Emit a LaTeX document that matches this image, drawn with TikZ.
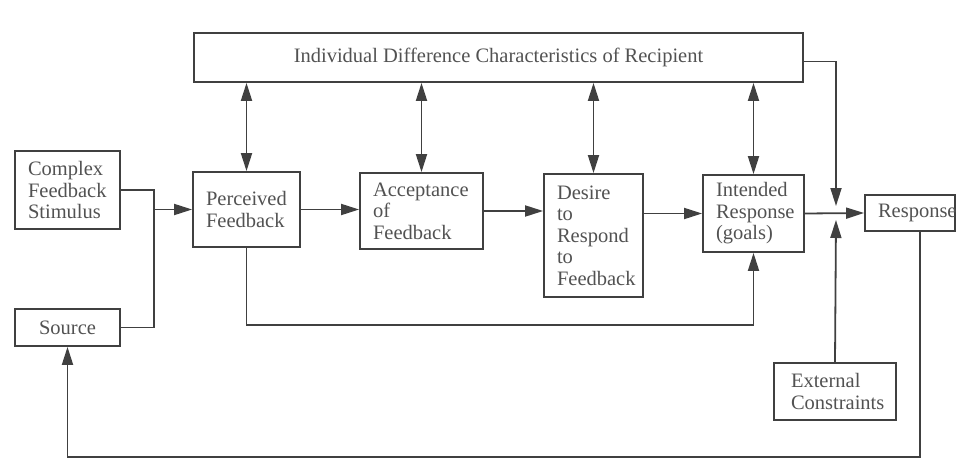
\documentclass[tikz,border=0pt]{standalone}
\usepackage{fontspec}
\setmainfont{Liberation Serif}
\usepackage{tikz}
\usetikzlibrary{arrows.meta,positioning}

\begin{document}
\begin{tikzpicture}[
      x=1pt, y=-1pt,
      line width=1.8pt,
      every node/.style={font=\fontsize{20.5}{21.5}\selectfont, text=black!68},
      box/.style={draw=black!75, line width=1.8pt, align=left, inner xsep=13pt, inner ysep=0pt},
      flow/.style={draw=black!75, -{Triangle[length=18pt,width=11pt]}},
      both/.style={draw=black!75, {Triangle[length=18pt,width=11pt]}-{Triangle[length=18pt,width=11pt]}}
    ]
    \useasboundingbox (0,0) rectangle (956,476);

    % Top characteristics box
    \node[box, align=center, minimum width=609pt, minimum height=49pt] (idc) at (498.5,57.5)
      {Individual Difference Characteristics of Recipient};

    % Inputs
    \node[box, text width=79pt, minimum height=78pt] (stimulus) at (67.5,190)
      {Complex\\Feedback\\Stimulus};
    \node[box, align=center, minimum width=105pt, minimum height=37pt] (source) at (67.5,327.5)
      {Source};

    % Chain
    \node[box, text width=81pt, minimum height=75pt] (perceived) at (246.5,209.5)
      {Perceived\\Feedback};
    \node[box, text width=97pt, minimum height=76pt] (acceptance) at (421.5,211)
      {Acceptance\\of\\Feedback};
    \node[box, text width=73pt, minimum height=123pt] (desire) at (593.5,235.5)
      {Desire\\to\\Respond\\to\\Feedback};
    \node[box, text width=75pt, minimum height=77pt] (intended) at (753.5,213.5)
      {Intended\\Response\\(goals)};
    \node[box, text width=64pt, minimum height=36pt] (response) at (910,213)
      {Response};
    \node[box, inner xsep=17pt, text width=88pt, minimum height=57pt] (external) at (835,391.5)
      {External\\Constraints};

    % Junctions
    \coordinate (merge) at (154,209.5);
    \coordinate (jtop) at (836,206);
    \coordinate (jbot) at (836,220);
    \coordinate (loop) at (500,325);
    \coordinate (back) at (500,457);

    % Inputs into perceived feedback
    \draw[black!75] (stimulus.east) -- (stimulus.east -| merge) -- (source.east -| merge) -- (source.east);
    \draw[flow] (merge) -- (perceived.west);

    % Main arrows
    \draw[flow] (perceived.east) -- (perceived.east -| acceptance.west);
    \draw[flow] (acceptance.east) -- (acceptance.east -| desire.west);
    \draw[flow] (intended.west -| desire.east) -- (intended.west);
    \draw[flow] (intended.east) -- (response.west);

    % Links with characteristics
    \draw[both] (idc.south -| perceived.north) -- (perceived.north);
    \draw[both] (idc.south -| acceptance.north) -- (acceptance.north);
    \draw[both] (idc.south -| desire.north) -- (desire.north);
    \draw[both] (idc.south -| intended.north) -- (intended.north);

    % Feedback and constraints
    \draw[flow] (perceived.south) |- (loop) -| (intended.south);
    \draw[flow] ([yshift=-4pt]idc.east) -| (jtop);
    \draw[flow] (external.north) -- (jbot);
    \draw[flow] ([xshift=10pt]response.south) |- (back) -| (source.south);

  \end{tikzpicture}
\end{document}
